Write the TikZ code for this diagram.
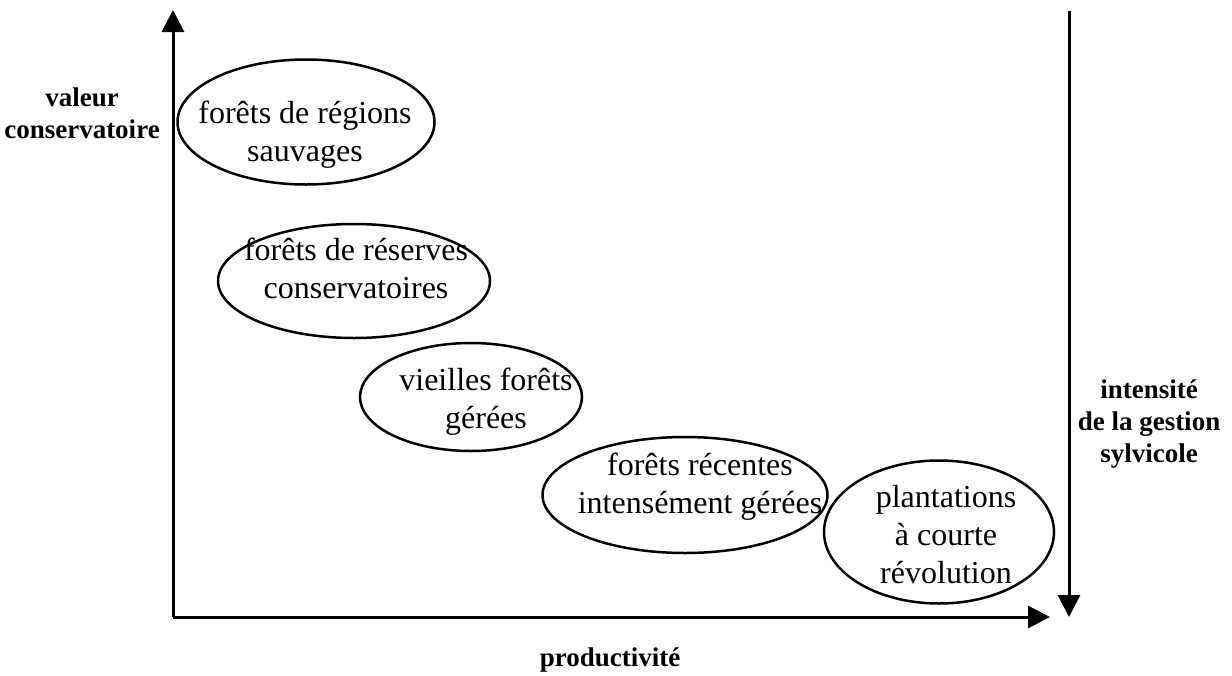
\documentclass[tikz,border=0pt]{standalone}
\usepackage{fontspec}
\setmainfont{Liberation Serif}
\usetikzlibrary{arrows.meta,shapes.geometric}
\begin{document}
\begin{tikzpicture}[x=1pt,y=-1pt,
  axis/.style={line width=3pt,-{Triangle[length=22pt,width=22pt]}},
  ell/.style={draw,ellipse,line width=2.5pt,inner sep=0pt},
  etxt/.style={align=center,inner sep=0pt,font=\fontsize{32}{38}\selectfont},
  lbl/.style={align=center,inner sep=0pt,font=\fontsize{27}{32}\selectfont\bfseries}]
\useasboundingbox (0,0) rectangle (1232,675);
\coordinate (O) at (173,617);
\coordinate (ytop) at (173,10);
\coordinate (xend) at (1050,617);
\coordinate (rtop) at (1069,11);
\coordinate (rbot) at (1069,617);
\draw[axis] (O) -- (ytop);
\draw[axis] (O) -- (xend);
\draw[axis] (rtop) -- (rbot);
\node[ell,minimum width=257pt,minimum height=125pt] (e1) at (306,122) {};
\node[ell,minimum width=272pt,minimum height=114pt] (e2) at (354,281) {};
\node[ell,minimum width=222pt,minimum height=108pt] (e3) at (471,397) {};
\node[ell,minimum width=285pt,minimum height=116pt] (e4) at (685,495) {};
\node[ell,minimum width=230pt,minimum height=143pt] (e5) at (939,532) {};
\node[etxt] (t1) at (305,135) {forêts de régions\\sauvages};
\node[etxt] (t2) at (356,268) {forêts de réserves\\conservatoires};
\node[etxt] (t3) at (486,402) {vieilles forêts\\gérées};
\node[etxt] (t4) at (700,487) {forêts récentes\\intensément gérées};
\node[etxt] (t5) at (946,535) {plantations\\à courte\\révolution};
\node[lbl] (ly) at (82,113) {valeur\\conservatoire};
\node[lbl] (lr) at (1149,424) {intensité\\de la gestion\\sylvicole};
\node[lbl] (lx) at (610,660) {productivité};
\end{tikzpicture}
\end{document}
